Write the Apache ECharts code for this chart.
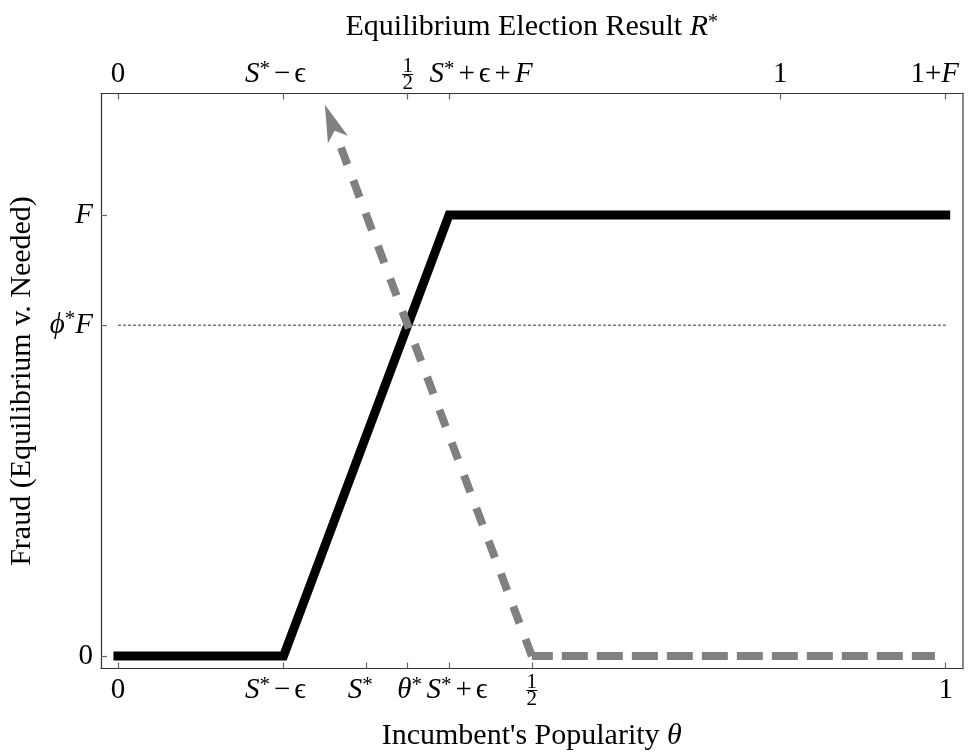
<!DOCTYPE html>
<html>
<head>
<meta charset="utf-8">
<script src="https://cdn.jsdelivr.net/npm/echarts@6/dist/echarts.min.js"></script>
<style>
html,body{margin:0;padding:0;background:#fff;}
#c{width:974px;height:752px;}
</style>
</head>
<body>
<div id="c"></div>
<script>
// ---- data ----
var thetaTicks = [0, 0.2, 0.3, 0.35, 0.4, 0.5, 1];
var thetaLabels = ['{n|0}', '{i|S}{sup|*}{op|\u2212}{n|\u03F5}', '{i|S}{sup|*}', '{i|\u03B8}{sup|*}', '{i|S}{sup|*}{op|+}{n|\u03F5}', 'frac', '{n|1}'];
var resultTicks = [0, 0.2, 0.35, 0.4, 0.8, 1];
var resultLabels = ['{n|0}', '{i|S}{sup|*}{op|\u2212}{n|\u03F5}', 'frac', '{i|S}{sup|*}{op|+}{n|\u03F5}{op|+}{i|F}', '{n|1}', '{n|1+}{i|F}'];
var fraudTicks = [0, 0.15, 0.2];
var fraudLabels = ['{n|0}', '{i|\u03D5}{sup|*}{i|F}', '{i|F}'];

var eqTheta = [0, 0.2, 0.4, 1];
var eqFraud = [0, 0, 0.2, 0.2];
var neededTheta = [0.265, 0.5, 0.987];
var neededFraud = [0.235, 0, 0];
var arrowTip = [0.25, 0.25];
var phiLine = [[0, 0.15], [1, 0.15]];

// ---- build ----
var FONT = '"Liberation Serif", "DejaVu Serif", serif';
var FS = 29;
var TFS = 30;
var rich = {
  n: {fontFamily: FONT, fontSize: FS, color: '#000', lineHeight: 32},
  i: {fontFamily: FONT, fontSize: FS, fontStyle: 'italic', color: '#000', lineHeight: 32},
  op: {fontFamily: FONT, fontSize: FS, color: '#000', lineHeight: 32, padding: [0, 4, 0, 4]},
  sup: {fontFamily: FONT, fontSize: 21, color: '#000', verticalAlign: 'top'},
  fn: {fontFamily: FONT, fontSize: 21, color: '#000', lineHeight: 14, align: 'center'},
  fb: {width: 11, height: 1, lineHeight: 3, backgroundColor: '#000', align: 'center'}
};
// horizontal nudges of individual labels (px; + = right), done with blank spacer tokens
var nudgeBottom = {1: -8, 2: -6, 3: 2, 4: 8};
var nudgeTop = {1: -8, 3: 32, 5: -11};
function spacer(d) {
  var w = Math.abs(d) * 2;
  var key = 'sp' + w;
  if (!rich[key]) rich[key] = {width: w, fontSize: 2, lineHeight: 2};
  return '{' + key + '| }';
}
var FRAC = '{fn|1}\n{fb| }\n{fn|2}';
function lab(vals, labels, nudge) {
  return function (v) {
    var k = -1;
    for (var j = 0; j < vals.length; j++) if (Math.abs(vals[j] - v) < 1e-9) k = j;
    if (k < 0) return '';
    if (labels[k] === 'frac') return FRAC;
    var s = labels[k], d = nudge[k] || 0;
    if (d > 0) s = spacer(d) + s;
    if (d < 0) s = s + spacer(d);
    return s;
  };
}
[nudgeBottom, nudgeTop].forEach(function (o) { for (var k in o) spacer(o[k]); });
function zip(a, b) { return a.map(function (x, i) { return [x, b[i]]; }); }
var neededPts = zip(neededTheta, neededFraud);

var XMIN = -0.0205, XMAX = 1.0203, YMIN = -0.00567, YMAX = 0.2551;
var axisLine = {show: true, onZero: false, lineStyle: {color: '#333', width: 1.2}};
var tick = {show: true, inside: true, length: 6, lineStyle: {color: '#666', width: 1.2}};
var titleRich = {
  n: {fontFamily: FONT, fontSize: TFS, color: '#000'},
  i: {fontFamily: FONT, fontSize: TFS, fontStyle: 'italic', color: '#000'},
  sup: {fontFamily: FONT, fontSize: 20, color: '#000', verticalAlign: 'top'}
};

var option = {
  animation: false,
  backgroundColor: '#fff',
  grid: {left: 101, right: 11.5, top: 93.5, bottom: 83.5, containLabel: false, outerBoundsMode: 'none'},
  xAxis: [
    {
      type: 'value', position: 'bottom', min: XMIN, max: XMAX,
      axisLine: axisLine,
      axisTick: Object.assign({customValues: thetaTicks}, tick),
      axisLabel: {customValues: thetaTicks, formatter: lab(thetaTicks, thetaLabels, nudgeBottom), rich: rich, margin: 22, verticalAlign: 'middle', hideOverlap: false},
      splitLine: {show: false},
      name: '{n|Incumbent\'s Popularity }{i|\u03B8}', nameLocation: 'middle', nameGap: 53,
      nameTextStyle: {fontFamily: FONT, fontSize: TFS, color: '#000', rich: titleRich}
    },
    {
      type: 'value', position: 'top', min: XMIN, max: XMAX,
      axisLine: axisLine,
      axisTick: Object.assign({customValues: resultTicks}, tick),
      axisLabel: {customValues: resultTicks, formatter: lab(resultTicks, resultLabels, nudgeTop), rich: rich, margin: 19, verticalAlign: 'middle', hideOverlap: false},
      splitLine: {show: false},
      name: '{n|Equilibrium Election Result }{i|R}{sup|*}', nameLocation: 'middle', nameGap: 51,
      nameTextStyle: {fontFamily: FONT, fontSize: TFS, color: '#000', rich: titleRich}
    }
  ],
  yAxis: [
    {
      type: 'value', position: 'left', min: YMIN, max: YMAX,
      axisLine: axisLine,
      axisTick: Object.assign({customValues: fraudTicks}, tick),
      axisLabel: {customValues: fraudTicks, formatter: lab(fraudTicks, fraudLabels, {}), rich: rich, margin: 8},
      splitLine: {show: false},
      name: 'Fraud (Equilibrium v. Needed)', nameLocation: 'middle', nameGap: 64,
      nameTextStyle: {fontFamily: FONT, fontSize: TFS, color: '#000'}
    },
    {
      type: 'value', position: 'right', min: YMIN, max: YMAX,
      axisLine: {show: true, onZero: false, lineStyle: {color: '#888', width: 2}},
      axisTick: {show: false}, axisLabel: {show: false}, splitLine: {show: false}
    }
  ],
  series: [
    {
      type: 'line', data: phiLine, symbol: 'none', silent: true,
      lineStyle: {color: '#777', width: 1.5, type: [3, 2]}, z: 1
    },
    {
      type: 'line', data: zip(eqTheta, eqFraud), symbol: 'none', silent: true,
      lineStyle: {color: '#000', width: 9, cap: 'square', join: 'miter'}, z: 2
    },
    {
      type: 'line', data: neededPts.slice(0, 2), symbol: 'none', silent: true,
      lineStyle: {color: '#808080', width: 8, type: [18, 17], dashOffset: 24.5, cap: 'butt'}, z: 3,
      markLine: {
        silent: true, symbol: ['none', 'arrow'], symbolSize: [16, 37],
        label: {show: false},
        lineStyle: {color: '#808080', width: 0, type: 'solid'},
        data: [[{coord: neededPts[0]}, {coord: arrowTip}]]
      }
    },
    {
      type: 'line', data: neededPts.slice(1), symbol: 'none', silent: true,
      lineStyle: {color: '#808080', width: 8, type: [26, 9], dashOffset: 5, cap: 'butt'}, z: 3
    }
  ]
};
echarts.init(document.getElementById('c'), null, {renderer: 'canvas'}).setOption(option);
</script>
</body>
</html>
